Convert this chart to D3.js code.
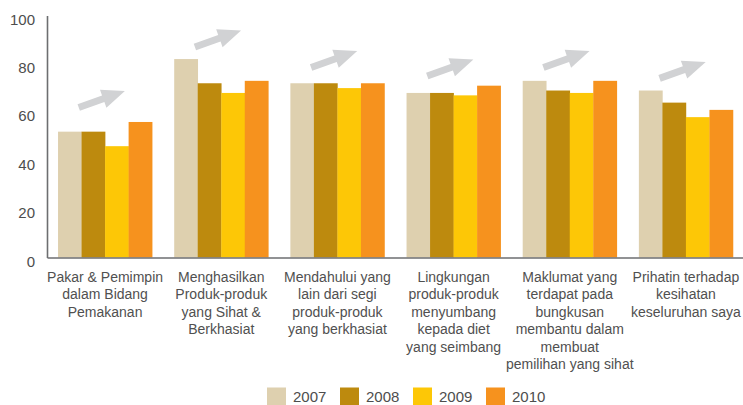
<!DOCTYPE html>
<html>
<head>
<meta charset="utf-8">
<script src="https://cdn.jsdelivr.net/npm/d3@7"></script>
<style>
  html, body { margin: 0; padding: 0; background: #fff; }
  svg { display: block; }
</style>
</head>
<body>
<svg id="chart" width="743" height="405"></svg>
<script>
// ---- data ----
const categories = [
  "Pakar & Pemimpin\ndalam Bidang\nPemakanan",
  "Menghasilkan\nProduk-produk\nyang Sihat &\nBerkhasiat",
  "Mendahului yang\nlain dari segi\nproduk-produk\nyang berkhasiat",
  "Lingkungan\nproduk-produk\nmenyumbang\nkepada diet\nyang seimbang",
  "Maklumat yang\nterdapat pada\nbungkusan\nmembantu dalam\nmembuat\npemilihan yang sihat",
  "Prihatin terhadap\nkesihatan\nkeseluruhan saya"
];
const years = ["2007", "2008", "2009", "2010"];
const values2007 = [52, 82, 72, 68, 73, 69];
const values2008 = [52, 72, 72, 68, 69, 64];
const values2009 = [46, 68, 70, 67, 68, 58];
const values2010 = [56, 73, 72, 71, 73, 61];
const yTicks = [0, 20, 40, 60, 80, 100];
// level (in value units) of the grey trend arrow over each group
const trendArrowLevel = [62, 87, 78.5, 75, 78.5, 74];

const seriesValues = [values2007, values2008, values2009, values2010];
const colors = ["#ded0af", "#bd8a0e", "#fdc706", "#f6921e"];

// ---- layout ----
const svg = d3.select("#chart");
const x0 = 47, x1 = 744, yTop = 15.5, yBottom = 257.5;

const x = d3.scaleBand()
  .domain(d3.range(categories.length))
  .range([x0, x1])
  .paddingInner(0.19)
  .paddingOuter(0.095);

const xSub = d3.scaleBand()
  .domain(years)
  .range([0, x.bandwidth()])
  .padding(0);

const y = d3.scaleLinear().domain([0, 100]).range([yBottom, yTop]);

// bars
const groups = svg.append("g").selectAll("g")
  .data(categories.map((c, i) => i))
  .join("g")
  .attr("transform", i => `translate(${x(i)},0)`);

groups.selectAll("rect")
  .data(i => years.map((yr, k) => ({ yr, k, v: seriesValues[k][i] })))
  .join("rect")
  .attr("x", d => xSub(d.yr))
  .attr("width", xSub.bandwidth() + 0.3)
  .attr("y", d => y(d.v))
  .attr("height", d => y(0) - y(d.v))
  .attr("fill", d => colors[d.k]);

// trend arrows
const arrowPath = "M0,-3.5 L26,-3.5 L26,-9.5 L49,0 L26,9.5 L26,3.5 L0,3.5 Z";
svg.append("g").selectAll("path")
  .data(trendArrowLevel)
  .join("path")
  .attr("d", arrowPath)
  .attr("fill", "#d1d2d4")
  .attr("transform", (lv, i) => `translate(${x(i) + x.bandwidth() * 0.22},${y(lv)}) rotate(-19.7)`);

// y axis
const yAxis = d3.axisLeft(y).tickValues(yTicks).tickSize(0).tickSizeOuter(0).tickPadding(12);
const gy = svg.append("g").attr("transform", `translate(${x0},0)`).call(yAxis);
gy.select(".domain").attr("stroke", "#6d6e70").attr("stroke-width", 1.6);
gy.selectAll(".tick text")
  .attr("font-family", "'Liberation Sans', Arial, sans-serif")
  .attr("font-size", 15)
  .attr("fill", "#4d4d4d")
  .attr("dy", "0.57em");

// x axis
const xAxis = d3.axisBottom(x).tickSize(0).tickSizeOuter(0).tickFormat("");
const gx = svg.append("g").attr("transform", `translate(0,${yBottom})`).call(xAxis);
gx.select(".domain").attr("stroke", "#6d6e70").attr("stroke-width", 1.6);

gx.selectAll(".tick").each(function (i) {
  const t = d3.select(this).select("text");
  t.text(null)
    .attr("y", 24.5)
    .attr("dy", 0)
    .attr("font-family", "'Liberation Sans', Arial, sans-serif")
    .attr("font-size", 14)
    .attr("fill", "#505050")
    .attr("text-anchor", "middle");
  categories[i].split("\n").forEach((line, j) => {
    t.append("tspan").attr("x", 0).attr("y", 24.5 + j * 17.4).text(line);
  });
});

// legend
const legend = svg.append("g").attr("transform", "translate(267,387.5)");
const items = legend.selectAll("g").data(years).join("g")
  .attr("transform", (d, i) => `translate(${i * 73},0)`);
items.append("rect").attr("width", 19).attr("height", 19).attr("fill", (d, i) => colors[i]);
items.append("text")
  .attr("x", 26).attr("y", 14)
  .attr("font-family", "'Liberation Sans', Arial, sans-serif")
  .attr("font-size", 15)
  .attr("fill", "#4d4d4d")
  .text(d => d);
</script>
</body>
</html>
